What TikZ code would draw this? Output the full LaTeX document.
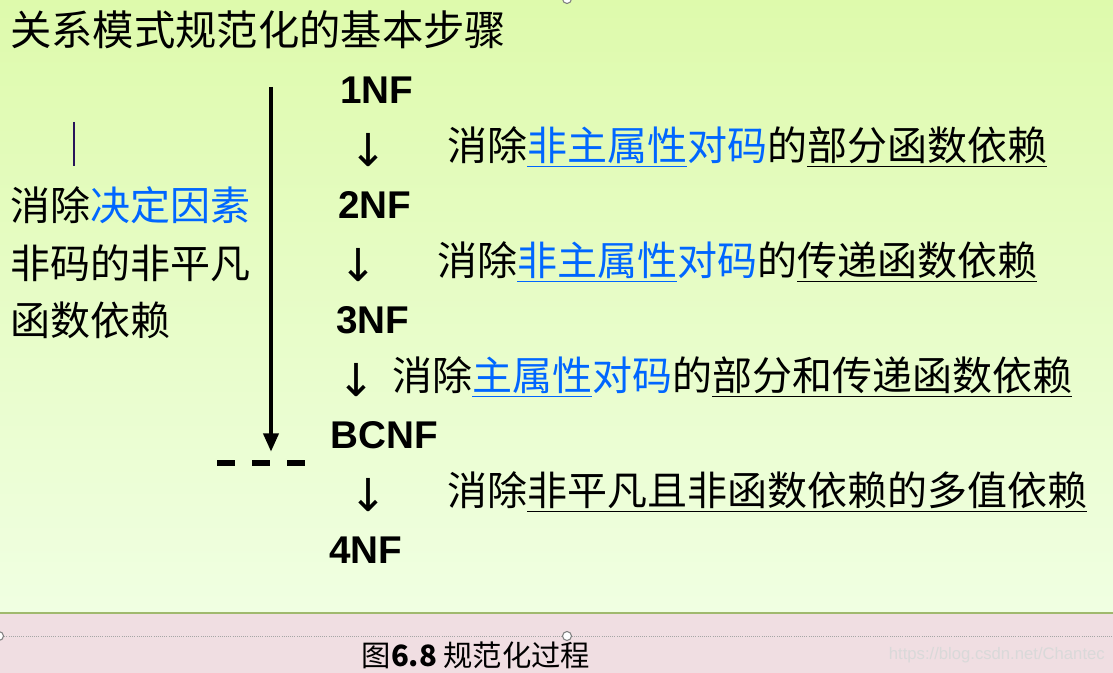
\documentclass[tikz,border=0pt]{standalone}
\usepackage{fontspec}
\setmainfont{Liberation Sans}
\newfontfamily\cjk{Noto Sans CJK SC}
\newfontfamily\arr{DejaVu Sans}
\usetikzlibrary{arrows.meta}
\definecolor{lnk}{RGB}{0,102,255}
\definecolor{topg}{RGB}{222,250,172}
\definecolor{botg}{RGB}{240,255,226}
\definecolor{pinkb}{RGB}{240,222,226}
\begin{document}
\begin{tikzpicture}[x=0.75pt,y=-0.75pt,
  zh/.style={inner sep=0pt,anchor=west,font=\cjk\fontsize{30}{33}\selectfont},
  nf/.style={inner sep=0pt,font=\bfseries\fontsize{29}{32}\selectfont},
  da/.style={inner sep=0pt,font=\arr\fontsize{34}{36}\selectfont}]
\useasboundingbox (0,0) rectangle (1113,673);
\shade[top color=topg,bottom color=botg] (0,0) rectangle (1113,613);
\fill[pinkb] (0,613) rectangle (1113,673);
\draw[color={rgb,255:red,160;green,185;blue,110},line width=1pt] (0,613) -- (1113,613);
\draw[gray!70,densely dotted,line width=0.6pt] (0,636) -- (1113,636);
\draw[gray,fill=white,line width=0.8pt] (567,636) circle (4.5);
\draw[gray,fill=white,line width=0.8pt] (567,-1) circle (4.5);
\draw[gray,fill=white,line width=0.8pt] (-1,636) circle (4.5);
\node[zh,font=\cjk\fontsize{31}{33}\selectfont] (title) at (10,30) {关系模式规范化的基本步骤};
\node[nf] (n1) at (377,90) {1NF};
\node[nf] (n2) at (375,205) {2NF};
\node[nf] (n3) at (373,320) {3NF};
\node[nf] (n4) at (384,435) {BCNF};
\node[nf] (n5) at (366,550) {4NF};
\node[da] (a1) at (368,150) {↓};
\node[da] (a2) at (358,265) {↓};
\node[da] (a3) at (356,380) {↓};
\node[da] (a4) at (368,495) {↓};
\node[zh] (t1) at (447,147) {消除\textcolor{lnk}{\underline{非主属性}对码}的\underline{部分函数依赖}};
\node[zh] (t2) at (437,262) {消除\textcolor{lnk}{\underline{非主属性}对码}的\underline{传递函数依赖}};
\node[zh] (t3) at (392,377) {消除\textcolor{lnk}{\underline{主属性}对码}的\underline{部分和传递函数依赖}};
\node[zh] (t4) at (447,492) {消除\underline{非平凡且非函数依赖的多值依赖}};
\node[zh] (l1) at (10,205) {消除\textcolor{lnk}{决定因素}};
\node[zh] (l2) at (10,263) {非码的非平凡};
\node[zh] (l3) at (10,320) {函数依赖};
\coordinate (vs) at (271,87);
\coordinate (ve) at (271,452);
\draw[line width=3.5pt,-{Triangle[length=14pt,width=11pt]}] (vs) -- (ve);
\draw[line width=4pt] (217,463) -- (235,463) (252,463) -- (270,463) (287,463) -- (305,463);
\draw[color={rgb,255:red,40;green,20;blue,90},line width=1.2pt] (74,122) -- (74,166);
\node[inner sep=0pt,font=\cjk\fontsize{22}{24}\selectfont] (cap) at (476,655) {图\textbf{6.8} 规范化过程};
\node[inner sep=0pt,anchor=east,text=white!70!gray,font=\fontsize{12.5}{14}\selectfont] (wm) at (1105,655) {https://blog.csdn.net/Chantec};
\end{tikzpicture}
\end{document}
